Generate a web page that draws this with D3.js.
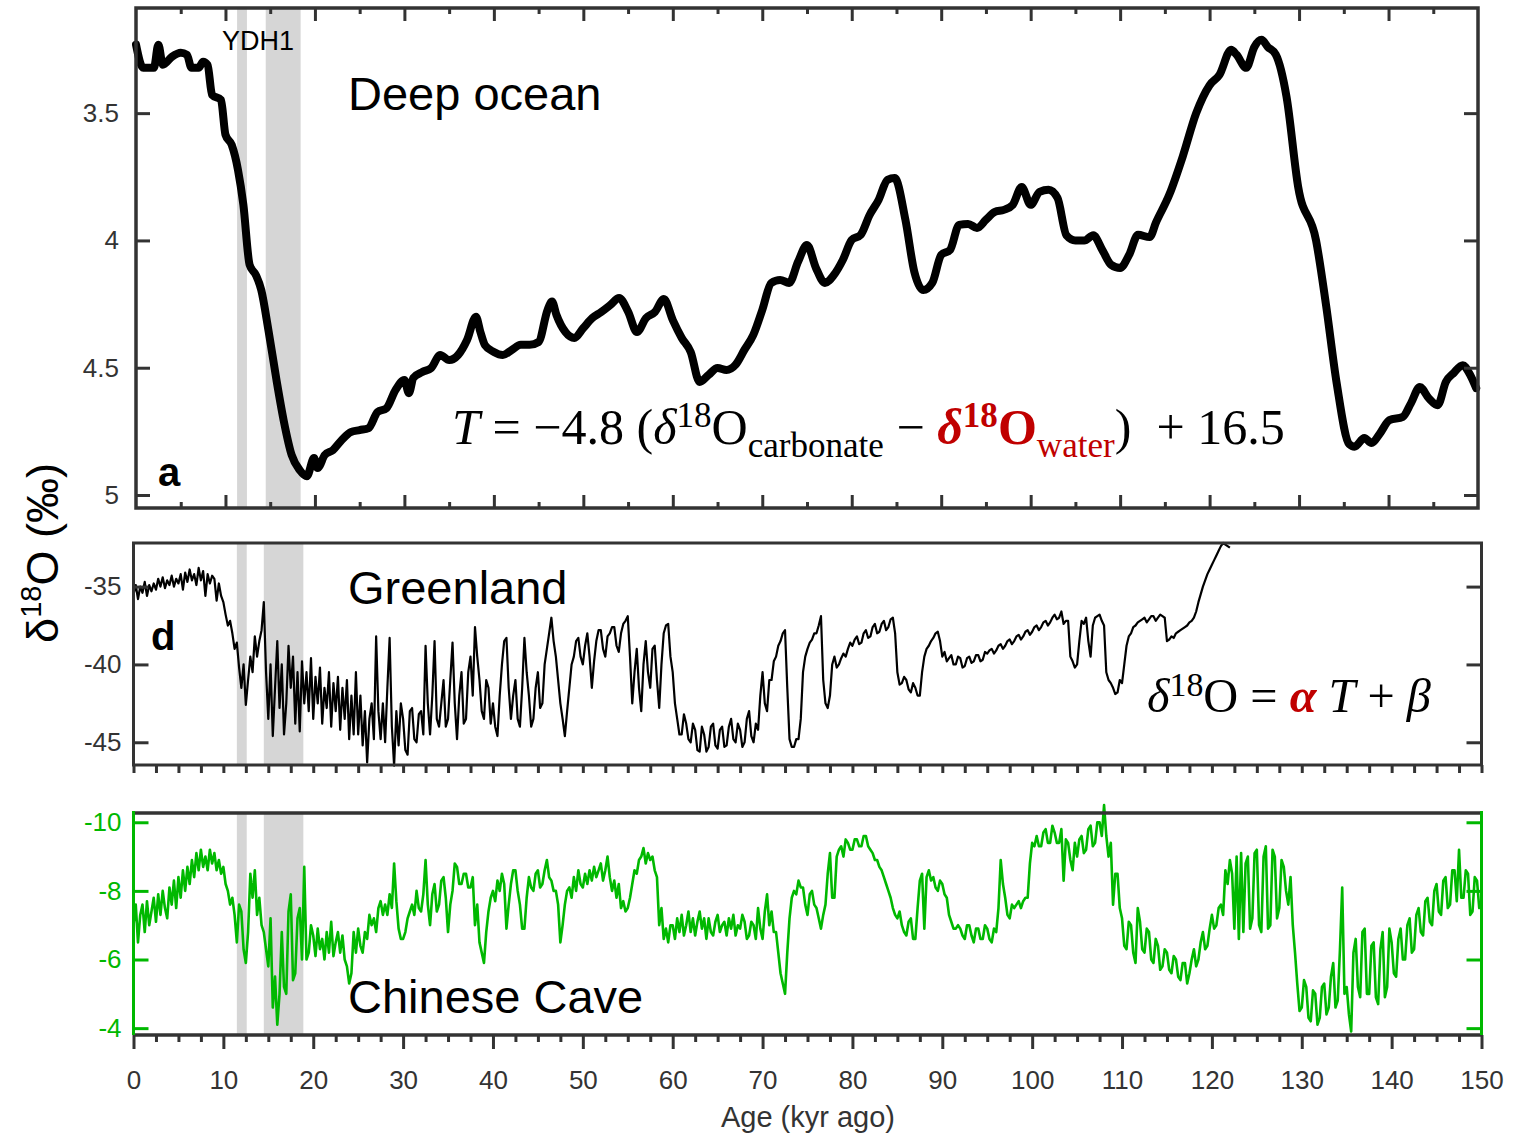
<!DOCTYPE html>
<html>
<head>
<meta charset="utf-8">
<script src="https://cdn.jsdelivr.net/npm/d3@7"></script>
<style>
  body { margin: 0; background: #fff; }
</style>
</head>
<body>
<script>
// ---- data ----
const ageTicks = d3.range(0, 151, 10);

// deep ocean benthic d18O (panel a)
const oceanAge = [0,0.8,2,2.5,3,4,5,5.7,6.2,7,7.5,8,8.5,9.5,10,10.7,11.4,12,12.7,13.4,14,14.8,15.7,16.5,17.4,18.3,19.1,19.9,20.3,21.1,
  22,23,24,25,26,27,28,29,30,30.5,31,32,33,34,35,36,37,38,38.5,39,40,41,42,43,44,45,46,46.5,47,48,49,50,51,52,53,54,55,56,57,58,59,
  60,61,62,63,64,65,66,67,68,69,70,71,72,73,74,75,76,77,78,79,80,81,82,83,84,84.8,86,87,88,89,90,91,92,93,94,95,96,97,98,99,
  100,101,102,103,104,105,106,107,108,109,110,111,112,113.3,114,115.5,117,118.5,120,121.1,122.4,123,124.1,125,125.8,126.5,127.4,128.6,129.9,
  131.9,133,134.2,135.6,136.2,137.3,138.1,139,140.1,141.6,142.5,143.5,144.5,145.5,146.4,147.3,148.3,149,149.8];
const oceanD18O = [3.231,3.322,3.322,3.231,3.31,3.279,3.263,3.271,3.322,3.322,3.298,3.31,3.428,3.448,3.585,3.625,3.723,3.86,4.096,4.136,4.195,4.352,4.548,4.706,4.843,4.902,4.926,4.855,4.894,4.843,
  4.824,4.784,4.753,4.745,4.737,4.674,4.659,4.588,4.548,4.6,4.54,4.517,4.501,4.45,4.47,4.45,4.391,4.3,4.36,4.411,4.438,4.45,4.43,4.41,4.41,4.399,4.273,4.24,4.293,4.36,4.383,4.344,4.305,4.281,4.254,4.226,4.28,4.36,4.305,4.281,4.23,
  4.313,4.383,4.438,4.556,4.528,4.501,4.509,4.489,4.43,4.371,4.273,4.167,4.155,4.167,4.084,4.018,4.108,4.167,4.136,4.077,3.998,3.978,3.9,3.841,3.762,3.755,3.919,4.124,4.195,4.167,4.057,4.037,3.939,3.935,3.951,3.919,3.888,3.88,3.86,3.79,
  3.86,3.809,3.801,3.833,3.98,4.0,4.0,3.98,4.037,4.096,4.108,4.057,3.978,3.987,3.93,3.82,3.67,3.5,3.39,3.35,3.251,3.27,3.322,3.24,3.212,3.24,3.27,3.436,3.79,
  4.0,4.25,4.56,4.80,4.81,4.776,4.796,4.76,4.706,4.693,4.64,4.576,4.62,4.647,4.556,4.52,4.49,4.52,4.58];

// Greenland ice d18O (panel d), one value every 0.25 kyr from 0 kyr
const greenStep = 0.25;
const greenD18O = [
  -35.5,-34.9,-35.8,-35.0,-35.4,-34.7,-35.6,-34.9,-35.3,-34.8,
  -35.2,-34.5,-35.0,-34.4,-35.1,-34.6,-34.9,-34.3,-35.0,-34.5,
  -34.8,-34.2,-35.2,-34.1,-34.7,-33.9,-34.6,-34.2,-34.9,-33.8,
  -34.6,-34.0,-35.6,-34.2,-34.8,-34.3,-34.5,-35.9,-34.8,-35.6,
  -36.0,-36.8,-37.5,-37.2,-38.0,-39.0,-38.6,-40.2,-41.5,-40.0,
  -42.6,-41.0,-39.5,-40.5,-38.2,-39.5,-38.5,-37.8,-36.0,-40.5,
  -43.5,-40.0,-44.6,-41.5,-38.5,-42.8,-40.0,-44.5,-42.5,-38.8,
  -41.5,-39.5,-43.8,-40.5,-44.3,-39.8,-42.5,-40.5,-43.0,-39.6,
  -43.5,-40.8,-42.5,-40.2,-43.8,-41.5,-42.8,-40.5,-44.0,-41.2,
  -43.0,-40.8,-44.2,-41.5,-43.5,-41.0,-44.8,-42.0,-44.5,-40.5,
  -44.5,-42.0,-45.2,-43.0,-46.3,-43.5,-42.5,-44.8,-38.2,-43.0,
  -44.8,-42.5,-45.0,-41.5,-38.3,-44.0,-46.5,-43.0,-45.2,-42.5,
  -43.5,-45.5,-45.8,-43.0,-42.8,-44.8,-45.0,-43.2,-43.0,-44.5,
  -38.8,-42.5,-44.5,-42.0,-38.5,-43.5,-44.0,-42.5,-41.0,-44.0,
  -43.5,-41.0,-38.6,-42.5,-44.8,-42.0,-40.5,-43.8,-43.5,-40.5,
  -39.5,-42.0,-37.6,-39.5,-41.0,-43.0,-43.5,-41.0,-41.5,-43.8,
  -42.5,-44.0,-44.6,-42.0,-40.0,-38.5,-38.3,-41.5,-43.5,-42.0,
  -41.0,-43.5,-44.0,-41.5,-38.3,-40.5,-42.0,-44.0,-43.5,-41.5,
  -40.5,-42.8,-42.5,-40.0,-39.0,-38.0,-37.0,-38.5,-39.5,-41.0,
  -42.5,-43.5,-44.6,-43.0,-41.5,-40.0,-39.5,-38.5,-38.3,-39.5,
  -40.0,-38.8,-38.0,-39.5,-41.5,-39.8,-38.5,-37.8,-37.8,-39.0,
  -39.5,-38.2,-38.0,-37.6,-37.6,-38.8,-39.2,-38.0,-37.4,-37.2,
  -36.9,-39.5,-42.5,-40.5,-39.0,-41.5,-43.0,-40.0,-38.5,-40.5,
  -41.5,-39.0,-38.8,-41.0,-42.8,-40.0,-38.0,-37.5,-37.4,-39.5,
  -40.5,-42.5,-43.5,-44.5,-44.5,-43.2,-43.8,-44.8,-45.0,-43.8,
  -44.2,-45.5,-45.6,-44.0,-44.5,-45.6,-45.3,-44.0,-43.8,-45.2,
  -45.4,-44.2,-44.0,-45.3,-45.2,-44.0,-43.5,-44.8,-45.0,-43.8,
  -44.2,-45.3,-45.0,-43.5,-43.0,-44.6,-45.0,-43.8,-44.2,-42.0,
  -40.5,-42.5,-43.0,-41.0,-41.0,-39.8,-39.5,-38.8,-38.5,-38.0,
  -37.8,-41.5,-44.8,-45.3,-45.3,-44.8,-44.8,-43.5,-40.5,-39.5,
  -39.0,-38.6,-38.4,-38.0,-38.0,-37.5,-36.9,-41.0,-42.5,-42.8,
  -42.0,-40.0,-39.5,-40.2,-40.0,-39.6,-39.3,-39.5,-39.0,-38.6,
  -38.8,-38.4,-38.2,-38.7,-38.6,-38.0,-37.8,-38.3,-38.2,-37.6,
  -37.4,-38.0,-37.9,-37.4,-37.2,-37.8,-37.6,-37.1,-37.0,-38.0,
  -40.5,-41.3,-41.2,-40.8,-41.0,-41.6,-41.8,-41.2,-41.5,-42.0,
  -42.0,-40.5,-39.5,-39.0,-38.8,-38.5,-38.3,-38.0,-37.9,-38.5,
  -39.5,-39.2,-39.8,-39.6,-39.4,-40.0,-40.0,-39.5,-39.6,-40.2,
  -40.1,-39.6,-39.5,-39.9,-39.8,-39.4,-39.4,-39.8,-39.7,-39.2,
  -39.3,-39.1,-39.0,-39.3,-39.1,-38.8,-38.7,-39.0,-38.8,-38.5,
  -38.4,-38.7,-38.5,-38.2,-38.1,-38.4,-38.2,-37.9,-37.8,-38.1,
  -37.9,-37.6,-37.5,-37.8,-37.6,-37.3,-37.2,-37.5,-37.3,-37.0,
  -36.8,-37.1,-37.0,-36.6,-37.4,-37.2,-37.2,-39.5,-39.8,-40.2,
  -40.0,-38.5,-37.2,-37.4,-37.0,-38.5,-39.5,-37.5,-37.0,-36.9,
  -36.8,-37.2,-37.5,-40.5,-41.0,-41.2,-41.5,-41.9,-41.8,-41.0,
  -41.2,-40.0,-38.8,-38.2,-38.0,-37.6,-37.5,-37.3,-37.2,-37.1,
  -37.0,-37.3,-37.1,-36.9,-36.9,-37.2,-37.0,-36.8,-36.9,-37.0,
  -38.5,-38.4,-38.2,-38.3,-38.0,-37.9,-37.8,-37.7,-37.6,-37.5,
  -37.3,-37.2,-37.0,-36.6,-36.0,-35.5,-35.0,-34.6,-34.2,-33.9,
  -33.6,-33.3,-33.0,-32.7,-32.4,-32.2,-32.3,-32.4,-32.5];

// Chinese cave speleothem d18O, one value every 0.25 kyr from 0 kyr
const caveStep = 0.25;
const caveD18O = [
  -7.0,-7.6,-6.5,-7.3,-7.6,-6.8,-7.7,-7.0,-7.4,-7.8,
  -7.1,-7.9,-7.3,-8.0,-7.5,-7.2,-8.1,-7.6,-8.3,-7.5,
  -8.4,-7.8,-8.6,-8.0,-8.7,-8.2,-8.9,-8.4,-9.1,-8.6,
  -9.2,-8.7,-9.0,-8.6,-9.2,-8.8,-9.1,-8.6,-8.9,-8.5,
  -8.7,-8.2,-8.0,-7.6,-7.8,-7.3,-6.5,-7.6,-7.4,-6.3,
  -5.9,-6.8,-8.5,-7.8,-8.6,-7.3,-7.8,-7.0,-6.8,-6.3,
  -5.8,-7.2,-4.6,-5.5,-4.1,-5.0,-6.8,-5.2,-5.0,-7.4,
  -7.9,-5.4,-5.6,-7.2,-7.5,-6.0,-8.7,-6.0,-6.2,-7.0,
  -6.7,-6.1,-6.9,-6.3,-6.6,-6.0,-6.8,-6.2,-7.1,-6.1,
  -6.5,-6.8,-6.2,-6.7,-6.0,-5.8,-5.3,-5.6,-6.8,-6.2,
  -6.9,-6.4,-6.2,-6.8,-6.6,-7.3,-7.0,-7.2,-6.8,-7.5,
  -7.7,-7.3,-7.6,-7.3,-7.9,-7.5,-8.8,-7.7,-6.9,-6.6,
  -6.6,-6.8,-7.2,-7.4,-7.6,-7.3,-8.0,-7.5,-7.4,-7.9,
  -8.9,-7.6,-7.0,-7.9,-8.2,-7.4,-7.6,-8.3,-8.4,-7.8,
  -6.8,-7.6,-8.0,-8.8,-8.7,-8.2,-8.2,-8.5,-8.5,-8.1,
  -8.1,-8.4,-7.0,-7.6,-6.5,-6.2,-5.9,-6.8,-7.4,-7.8,
  -8.0,-7.7,-8.3,-8.0,-8.5,-8.2,-6.9,-7.6,-8.2,-8.6,
  -8.6,-8.0,-7.6,-6.9,-6.9,-7.8,-8.4,-8.1,-8.0,-8.5,
  -8.6,-8.1,-8.2,-8.6,-8.9,-8.4,-8.3,-8.0,-8.0,-7.6,
  -6.5,-7.0,-7.6,-8.0,-8.1,-7.8,-8.4,-8.0,-8.6,-8.2,
  -8.1,-8.5,-8.2,-8.6,-8.3,-8.7,-8.4,-8.6,-8.8,-8.3,
  -8.6,-9.0,-8.4,-8.0,-8.3,-7.8,-8.2,-7.5,-7.7,-7.4,
  -7.5,-7.8,-8.2,-8.6,-8.5,-8.9,-9.0,-9.25,-8.8,-9.1,
  -8.9,-9.0,-8.6,-8.4,-7.0,-7.5,-6.6,-6.9,-6.5,-7.0,
  -7.0,-6.6,-7.2,-6.8,-7.3,-6.7,-7.0,-7.4,-6.8,-7.2,
  -6.7,-7.1,-7.4,-6.9,-7.2,-6.6,-7.2,-6.8,-6.7,-7.1,
  -7.3,-6.8,-7.0,-7.1,-6.7,-7.2,-6.9,-7.3,-6.7,-7.0,
  -6.9,-7.3,-7.1,-6.6,-6.7,-7.1,-7.0,-6.6,-7.5,-6.9,
  -6.6,-7.4,-7.9,-7.0,-7.4,-6.8,-6.8,-6.2,-5.6,-5.3,
  -5.0,-6.2,-7.2,-7.8,-8.0,-7.9,-8.3,-8.1,-8.1,-7.6,
  -7.3,-7.9,-8.0,-7.6,-7.5,-7.2,-6.9,-7.3,-7.6,-8.5,
  -9.1,-7.8,-7.8,-9.0,-9.2,-9.3,-9.0,-9.5,-9.4,-9.2,
  -9.2,-9.5,-9.5,-9.3,-9.3,-9.6,-9.6,-9.3,-9.2,-9.1,
  -8.9,-8.9,-8.7,-8.6,-8.4,-8.2,-8.0,-7.8,-7.5,-7.3,
  -7.2,-7.4,-7.0,-6.8,-6.7,-7.1,-7.2,-6.6,-6.6,-7.5,
  -8.3,-8.5,-6.9,-8.4,-8.6,-8.3,-8.4,-8.1,-8.0,-8.3,
  -8.2,-7.9,-7.8,-7.3,-7.1,-6.9,-6.9,-7.0,-6.9,-6.7,
  -6.6,-7.0,-7.0,-6.7,-6.5,-6.9,-6.9,-6.6,-6.6,-7.0,
  -6.9,-6.6,-6.5,-6.9,-6.8,-7.5,-8.9,-8.2,-7.8,-7.3,
  -7.2,-7.6,-7.5,-7.6,-7.7,-7.5,-7.7,-7.8,-7.8,-8.8,
  -9.4,-9.3,-9.6,-9.3,-9.3,-9.7,-9.8,-9.4,-9.4,-9.9,
  -9.7,-9.4,-9.4,-9.8,-8.3,-9.5,-9.4,-8.9,-8.6,-9.4,
  -9.0,-9.5,-9.6,-9.1,-9.2,-9.8,-9.9,-9.3,-9.4,-10.0,
  -10.0,-9.6,-10.5,-9.6,-9.0,-9.4,-7.6,-8.5,-8.5,-7.5,
  -7.2,-6.4,-6.3,-7.1,-7.0,-6.2,-5.9,-7.5,-7.1,-6.3,
  -6.2,-6.9,-6.8,-6.0,-5.9,-6.6,-6.4,-5.7,-5.8,-6.3,
  -6.2,-5.7,-5.6,-6.1,-6.0,-5.5,-5.4,-5.9,-5.9,-5.3,
  -5.6,-6.0,-6.3,-5.8,-6.0,-6.5,-6.8,-6.3,-6.4,-6.9,
  -7.3,-6.9,-7.0,-7.5,-7.6,-7.3,-8.6,-8.2,-8.9,-8.5,
  -6.9,-9.0,-6.6,-9.1,-6.8,-8.8,-9.0,-6.9,-7.2,-9.1,
  -9.2,-7.0,-6.8,-9.0,-9.3,-6.9,-7.0,-9.2,-9.0,-7.2,
  -7.5,-8.9,-8.7,-8.0,-7.6,-8.4,-7.0,-6.2,-5.3,-4.5,
  -4.6,-5.4,-5.2,-4.3,-4.2,-5.1,-5.0,-4.1,-4.3,-5.2,
  -5.3,-4.4,-4.6,-5.5,-5.9,-4.6,-4.8,-6.3,-8.1,-5.0,
  -5.2,-4.4,-3.9,-6.2,-6.6,-5.2,-4.9,-6.8,-6.9,-5.0,
  -5.0,-6.4,-6.5,-4.9,-4.7,-6.3,-6.8,-4.9,-5.2,-6.9,
  -6.5,-5.6,-5.5,-6.6,-6.9,-6.0,-6.0,-7.0,-7.2,-6.2,
  -6.3,-7.3,-7.5,-6.8,-6.7,-7.7,-7.8,-7.1,-7.0,-8.0,
  -8.2,-7.4,-7.3,-8.3,-8.4,-7.5,-7.6,-8.6,-8.6,-7.7,
  -9.2,-7.8,-7.8,-8.6,-8.5,-7.3,-7.4,-8.4,-8.3,-7.5,
  -7.6];

// shaded events: Younger Dryas and Heinrich 1 (kyr)
const eventsA = [[11.3, 12.4], [14.5, 18.4]];
const eventsB = [[11.5, 12.6], [14.5, 18.9]];

const oceanTicks = [3.5, 4, 4.5, 5];
const greenTicks = [-35, -40, -45];
const caveTicks = [-10, -8, -6, -4];

// ---- setup ----
const W = 1514, H = 1136;
const ink = "#333", green = "#00b800", shade = "#d6d6d6", red = "#c00000";
const sans = "'Liberation Sans', Arial, sans-serif";
const serif = "'Liberation Serif', 'DejaVu Serif', serif";

const svg = d3.select("body").append("svg").attr("width", W).attr("height", H)
  .style("font-family", sans);
svg.append("rect").attr("width", W).attr("height", H).attr("fill", "#fff");

const xA = d3.scaleLinear().domain([0, 150]).range([136, 1478]);
const xB = d3.scaleLinear().domain([0, 150]).range([133.5, 1481.5]);
const yA = d3.scaleLinear().domain([3.087, 5.051]).range([8, 508]);
const yD = d3.scaleLinear().domain([-32.2, -46.46]).range([543, 765]);
const yC = d3.scaleLinear().domain([-10.27, -3.8]).range([813, 1035]);

function bands(x, y0, y1, list) {
  svg.append("g").selectAll("rect").data(list).join("rect")
    .attr("x", d => x(d[0])).attr("width", d => x(d[1]) - x(d[0]))
    .attr("y", y0).attr("height", y1 - y0)
    .attr("fill", shade);
}

function styleAxis(g, color, width) {
  g.attr("font-family", null);
  g.select(".domain").remove();
  g.selectAll(".tick line").attr("stroke", color).attr("stroke-width", width);
  g.selectAll(".tick text").attr("fill", color).attr("font-size", 26);
}

const fmt = d => String(d);

// ---- panel a: deep ocean ----
bands(xA, 8, 508, eventsA);

svg.append("path")
  .datum(oceanAge.map((a, i) => [a, oceanD18O[i]]))
  .attr("fill", "none").attr("stroke", "#000").attr("stroke-width", 8)
  .attr("stroke-linejoin", "round").attr("stroke-linecap", "round")
  .attr("d", d3.line().x(d => xA(d[0])).y(d => yA(d[1])).curve(d3.curveMonotoneX));

svg.append("g").attr("transform", "translate(136,0)")
  .call(d3.axisLeft(yA).tickValues(oceanTicks).tickSize(-14).tickPadding(17).tickFormat(fmt))
  .call(g => styleAxis(g, ink, 3));
svg.append("g").attr("transform", "translate(1478,0)")
  .call(d3.axisRight(yA).tickValues(oceanTicks).tickSize(-14).tickFormat(""))
  .call(g => styleAxis(g, ink, 3));

const minorA = d3.range(5, 150, 5).filter(v => v % 10 !== 0);
const majorA = d3.range(10, 150, 10);
[[d3.axisTop, 8], [d3.axisBottom, 508]].forEach(([ax, y]) => {
  svg.append("g").attr("transform", `translate(0,${y})`)
    .call(ax(xA).tickValues(minorA).tickSize(-6).tickFormat(""))
    .call(g => styleAxis(g, ink, 3));
  svg.append("g").attr("transform", `translate(0,${y})`)
    .call(ax(xA).tickValues(majorA).tickSize(-13).tickFormat(""))
    .call(g => styleAxis(g, ink, 3));
});

svg.append("rect").attr("x", 136).attr("y", 8).attr("width", 1478 - 136).attr("height", 500)
  .attr("fill", "none").attr("stroke", ink).attr("stroke-width", 3.5);

// ---- panel d: Greenland ----
bands(xB, 543, 765, eventsB);

svg.append("path")
  .datum(greenD18O)
  .attr("fill", "none").attr("stroke", "#000").attr("stroke-width", 2.2)
  .attr("stroke-linejoin", "round")
  .attr("d", d3.line().x((d, i) => xB(i * greenStep)).y(d => yD(d)));

svg.append("g").attr("transform", "translate(133.5,0)")
  .call(d3.axisLeft(yD).tickValues(greenTicks).tickSize(-15).tickPadding(12).tickFormat(fmt))
  .call(g => styleAxis(g, ink, 3));
svg.append("g").attr("transform", "translate(1481.5,0)")
  .call(d3.axisRight(yD).tickValues(greenTicks).tickSize(-15).tickFormat(""))
  .call(g => styleAxis(g, ink, 3));
svg.append("g").attr("transform", "translate(0,765)")
  .call(d3.axisBottom(xB).tickValues(d3.range(0, 150.1, 2.5)).tickSize(8).tickFormat(""))
  .call(g => styleAxis(g, ink, 3));

svg.append("rect").attr("x", 133.5).attr("y", 543).attr("width", 1481.5 - 133.5).attr("height", 222)
  .attr("fill", "none").attr("stroke", ink).attr("stroke-width", 3);

// ---- panel: Chinese cave ----
bands(xB, 813, 1035, eventsB);

svg.append("path")
  .datum(caveD18O)
  .attr("fill", "none").attr("stroke", green).attr("stroke-width", 2.6)
  .attr("stroke-linejoin", "round")
  .attr("d", d3.line().x((d, i) => xB(i * caveStep)).y(d => yC(d)));

svg.append("g").attr("transform", "translate(133.5,0)")
  .call(d3.axisLeft(yC).tickValues(caveTicks).tickSize(-15).tickPadding(12).tickFormat(fmt))
  .call(g => styleAxis(g, green, 3));
svg.append("g").attr("transform", "translate(1481.5,0)")
  .call(d3.axisRight(yC).tickValues(caveTicks).tickSize(-15).tickFormat(""))
  .call(g => styleAxis(g, green, 3));

svg.append("g").attr("transform", "translate(0,1035)")
  .call(d3.axisBottom(xB).tickValues(d3.range(0, 150.1, 2.5).filter(v => v % 10 !== 0)).tickSize(7).tickFormat(""))
  .call(g => styleAxis(g, ink, 3));
svg.append("g").attr("transform", "translate(0,1035)")
  .call(d3.axisBottom(xB).tickValues(ageTicks).tickSize(14).tickPadding(22))
  .call(g => styleAxis(g, ink, 3));

svg.append("line").attr("x1", 133.5).attr("x2", 1481.5).attr("y1", 813).attr("y2", 813)
  .attr("stroke", ink).attr("stroke-width", 3.5);
svg.append("line").attr("x1", 133.5).attr("x2", 1481.5).attr("y1", 1035).attr("y2", 1035)
  .attr("stroke", ink).attr("stroke-width", 3.5);
[133.5, 1481.5].forEach(x => svg.append("line").attr("x1", x).attr("x2", x).attr("y1", 811).attr("y2", 1035)
  .attr("stroke", green).attr("stroke-width", 3));

// ---- labels ----
const label = (x, y, t, size, opts = {}) => svg.append("text").attr("x", x).attr("y", y)
  .attr("font-size", size).attr("fill", opts.fill || "#000")
  .attr("font-weight", opts.bold ? "bold" : null)
  .attr("text-anchor", opts.anchor || "start").text(t);

label(348, 110, "Deep ocean", 47);
label(348, 604, "Greenland", 47);
label(348, 1013, "Chinese Cave", 47);
label(222, 50, "YDH1", 27);
label(158, 486, "a", 40, { bold: true });
label(151, 650, "d", 40, { bold: true });
label(808, 1127, "Age (kyr ago)", 29, { anchor: "middle", fill: ink });

const yl = svg.append("text").attr("transform", "translate(58,553) rotate(-90)")
  .attr("text-anchor", "middle").attr("font-size", 45).attr("fill", "#000");
yl.append("tspan").text("δ");
yl.append("tspan").attr("font-size", 29).attr("dy", -17).text("18");
yl.append("tspan").attr("dy", 17).text("O (‰)");

// equations in a math-like serif
function equation(x, y, size, parts, targetWidth) {
  const t = svg.append("text").attr("x", x).attr("y", y)
    .style("font-family", serif)
    .style("white-space", "pre");
  function build(s) {
    t.attr("font-size", s).selectAll("tspan").remove();
    let off = 0;
    parts.forEach(p => {
      const o = p.sup ? -0.33 * s : p.sub ? 0.26 * s : 0;
      t.append("tspan")
        .attr("dy", o - off)
        .attr("font-size", p.sup || p.sub ? 0.7 * s : s)
        .attr("font-style", p.it ? "italic" : null)
        .attr("font-weight", p.b ? "bold" : null)
        .attr("fill", p.c || "#000")
        .text(p.t);
      off = o;
    });
  }
  build(size);
  const w = t.node().getBBox().width;
  if (targetWidth && w > 0) build(size * targetWidth / w);
}

equation(452, 444, 44, [
  { t: "T", it: true }, { t: " = −4.8 (" }, { t: "δ", it: true }, { t: "18", sup: true }, { t: "O" },
  { t: "carbonate", sub: true }, { t: " − " },
  { t: "δ", it: true, b: true, c: red }, { t: "18", sup: true, b: true, c: red }, { t: "O", b: true, c: red },
  { t: "water", sub: true, c: red }, { t: ")  + 16.5" }
], 833);

equation(1147, 712, 42, [
  { t: "δ", it: true }, { t: "18", sup: true }, { t: "O = " },
  { t: "α", it: true, b: true, c: red }, { t: " T", it: true }, { t: " + " }, { t: "β", it: true }
], 284);
</script>
</body>
</html>
